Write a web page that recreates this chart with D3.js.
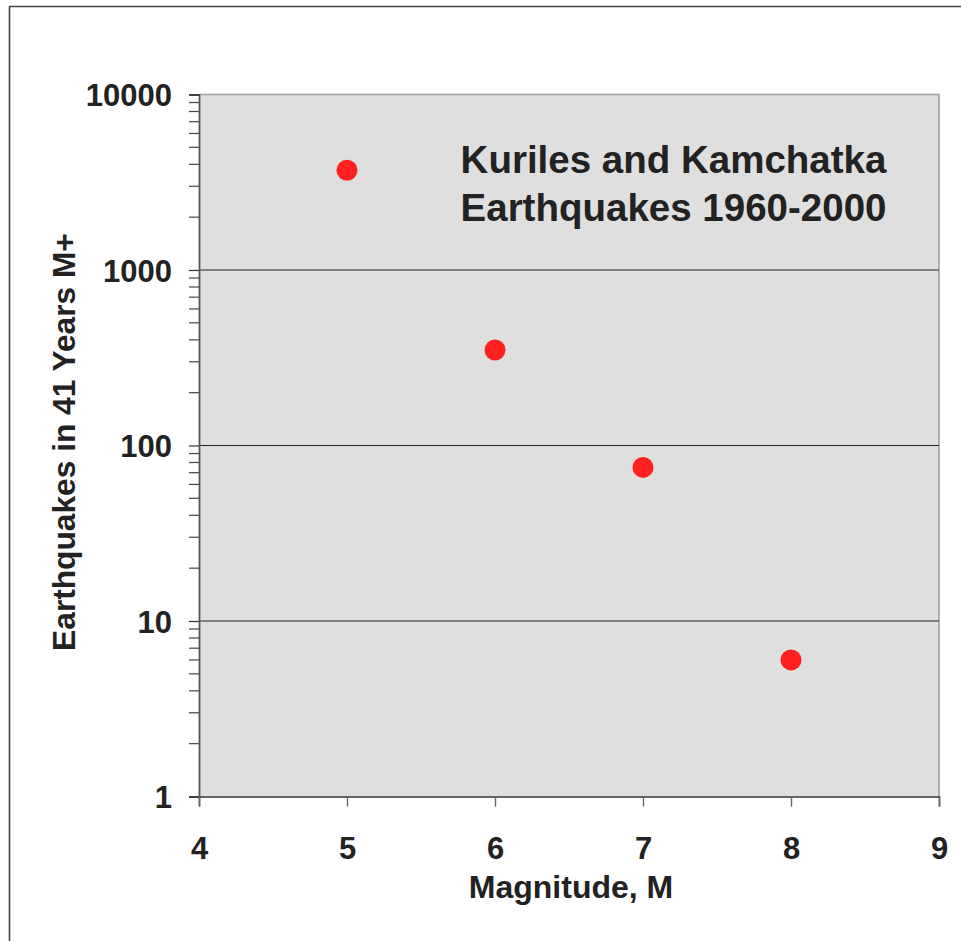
<!DOCTYPE html>
<html>
<head>
<meta charset="utf-8">
<script src="https://cdn.jsdelivr.net/npm/d3@7"></script>
<style>
  html, body { margin: 0; padding: 0; background: #fff; }
  svg { display: block; }
  text { font-family: "Liberation Sans", Arial, sans-serif; font-weight: bold; fill: #222; }
</style>
</head>
<body>
<svg id="chart" width="961" height="941"></svg>
<script>
// ---- data ----
const magnitudes = [5, 6, 7, 8];
const counts = [3700, 350, 75, 6];
const xTickValues = [4, 5, 6, 7, 8, 9];
const yTickValues = [1, 10, 100, 1000, 10000];
const titleLines = ["Kuriles and Kamchatka", "Earthquakes 1960-2000"];
const xLabel = "Magnitude, M";
const yLabel = "Earthquakes in 41 Years M+";

// ---- layout ----
const W = 961, H = 941;
const plot = { left: 199, right: 939, top: 94.5, bottom: 796.5 };

const svg = d3.select("#chart");

// outer frame (top and left visible)
svg.append("path")
  .attr("d", `M9.5,${H} V6.5 H${W}`)
  .attr("fill", "none")
  .attr("stroke", "#444")
  .attr("stroke-width", 1.6);

const x = d3.scaleLinear().domain([4, 9]).range([plot.left, plot.right]);
const y = d3.scaleLog().domain([1, 10000]).range([plot.bottom, plot.top]);

// plot background
svg.append("rect")
  .attr("x", plot.left).attr("y", plot.top)
  .attr("width", plot.right - plot.left)
  .attr("height", plot.bottom - plot.top)
  .attr("fill", "#dfdfdf");

// plot border top & right (gray)
svg.append("path")
  .attr("d", `M${plot.left},${plot.top} H${plot.right} V${plot.bottom}`)
  .attr("fill", "none")
  .attr("stroke", "#a0a0a0")
  .attr("stroke-width", 1.6);

// gridlines
svg.append("g")
  .selectAll("line")
  .data(yTickValues.filter(v => v > 1 && v < 10000))
  .join("line")
  .attr("x1", plot.left).attr("x2", plot.right)
  .attr("y1", d => y(d)).attr("y2", d => y(d))
  .attr("stroke", "#222")
  .attr("stroke-width", 1.2);

// minor ticks on y
const minor = [];
for (let dec = 1; dec < 10000; dec *= 10) {
  for (let k = 2; k <= 9; k++) minor.push(dec * k);
}
svg.append("g")
  .selectAll("line")
  .data(minor)
  .join("line")
  .attr("x1", plot.left - 10).attr("x2", plot.left)
  .attr("y1", d => y(d)).attr("y2", d => y(d))
  .attr("stroke", "#444")
  .attr("stroke-width", 1.2);

// y axis
const yAxis = d3.axisLeft(y)
  .tickValues(yTickValues)
  .tickFormat(d3.format("d"))
  .tickSize(10)
  .tickPadding(17);
const gy = svg.append("g")
  .attr("transform", `translate(${plot.left},0)`)
  .call(yAxis);
gy.select(".domain").attr("stroke", "#555").attr("stroke-width", 1.8);
gy.selectAll(".tick line").attr("stroke", "#333").attr("stroke-width", 1.2);
gy.selectAll(".tick text")
  .attr("font-size", 31)
  .attr("fill", "#222")
  .attr("font-family", "Liberation Sans, Arial, sans-serif")
  .attr("font-weight", "bold")
  .attr("dy", "0.36em");

// x axis
const xAxis = d3.axisBottom(x)
  .tickValues(xTickValues)
  .tickFormat(d3.format("d"))
  .tickSize(10)
  .tickPadding(0);
const gx = svg.append("g")
  .attr("transform", `translate(0,${plot.bottom})`)
  .call(xAxis);
gx.select(".domain").attr("stroke", "#333").attr("stroke-width", 1.6);
gx.selectAll(".tick line").attr("stroke", "#666").attr("stroke-width", 1.4);
gx.selectAll(".tick text")
  .attr("font-size", 31)
  .attr("fill", "#222")
  .attr("font-family", "Liberation Sans, Arial, sans-serif")
  .attr("font-weight", "bold")
  .attr("y", 858.5 - plot.bottom)
  .attr("dy", null);

// points
svg.append("g")
  .selectAll("circle")
  .data(magnitudes.map((m, i) => ({ m, c: counts[i] })))
  .join("circle")
  .attr("cx", d => x(d.m))
  .attr("cy", d => y(d.c))
  .attr("r", 10.5)
  .attr("fill", "#ff2020");

// title
svg.append("g")
  .selectAll("text")
  .data(titleLines)
  .join("text")
  .attr("x", 673.5)
  .attr("y", (d, i) => 173 + i * 48)
  .attr("text-anchor", "middle")
  .attr("font-size", 38.5)
  .text(d => d);

// axis labels
svg.append("text")
  .attr("x", 571)
  .attr("y", 897.5)
  .attr("text-anchor", "middle")
  .attr("font-size", 32)
  .text(xLabel);

svg.append("text")
  .attr("transform", `translate(75,442) rotate(-90)`)
  .attr("text-anchor", "middle")
  .attr("font-size", 31.7)
  .text(yLabel);
</script>
</body>
</html>
